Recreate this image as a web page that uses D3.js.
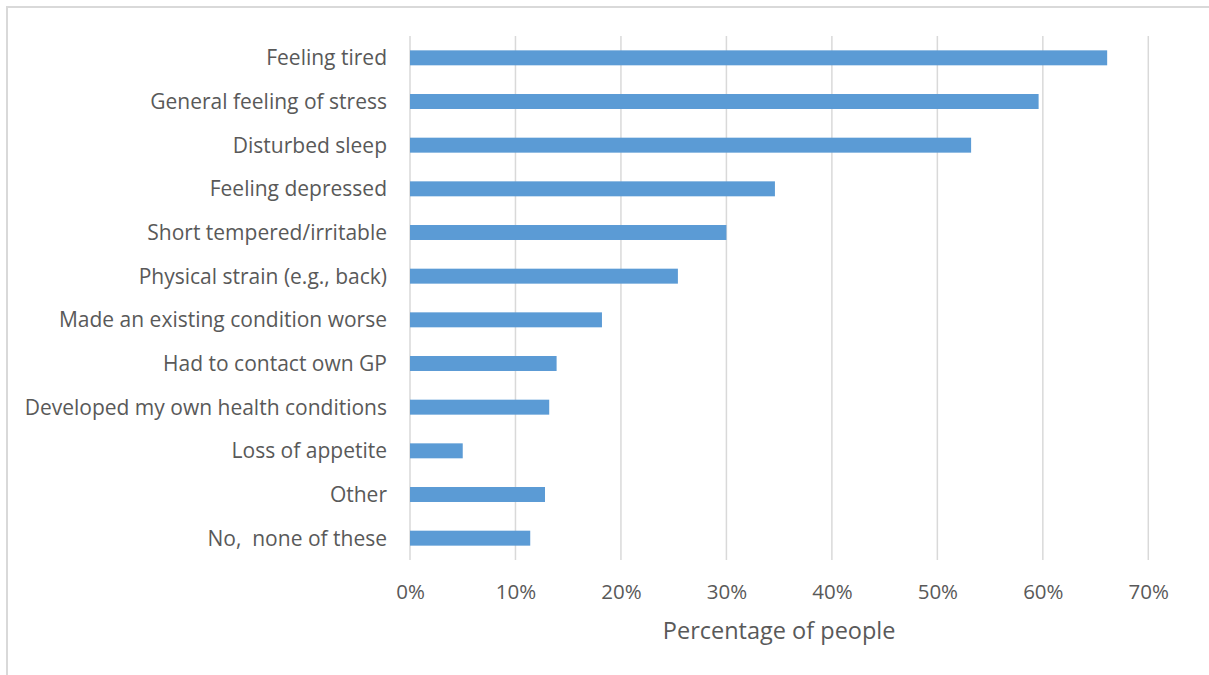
<!DOCTYPE html>
<html>
<head>
<meta charset="utf-8">
<script src="https://cdn.jsdelivr.net/npm/d3@7"></script>
<style>
  html, body { margin: 0; padding: 0; background: #fff; }
  svg { display: block; }
  text { font-family: "Open Sans", "Noto Sans", sans-serif; fill: #595959; white-space: pre; }
</style>
</head>
<body>
<svg id="chart" width="1209" height="675"></svg>
<script>
const categories = [
  "Feeling tired",
  "General feeling of stress",
  "Disturbed sleep",
  "Feeling depressed",
  "Short tempered/irritable",
  "Physical strain (e.g., back)",
  "Made an existing condition worse",
  "Had to contact own GP",
  "Developed my own health conditions",
  "Loss of appetite",
  "Other",
  "No,  none of these"
];
const values = [0.661, 0.596, 0.532, 0.346, 0.300, 0.254, 0.182, 0.139, 0.132, 0.050, 0.128, 0.114];
const tickValues = [0, 0.1, 0.2, 0.3, 0.4, 0.5, 0.6, 0.7];
const xTitle = "Percentage of people";

const svg = d3.select("#chart");
const W = 1209, H = 675;
const margin = { left: 410, right: 1209 - 1148.3, top: 36, bottom: 675 - 560 };

// outer border
svg.append("rect")
  .attr("x", 7).attr("y", 7)
  .attr("width", W + 20).attr("height", H + 20)
  .attr("fill", "none").attr("stroke", "#d9d9d9").attr("stroke-width", 2);

const x = d3.scaleLinear().domain([0, 0.7]).range([margin.left, W - margin.right]);
const y = d3.scaleBand().domain(categories).range([margin.top, H - margin.bottom])
  .paddingInner(0.657).paddingOuter(0.3285);

// gridlines
svg.append("g").selectAll("line").data(tickValues).join("line")
  .attr("x1", d => x(d)).attr("x2", d => x(d))
  .attr("y1", margin.top).attr("y2", H - margin.bottom)
  .attr("stroke", "#d9d9d9").attr("stroke-width", 1.5);

// bars
svg.append("g").selectAll("rect").data(values).join("rect")
  .attr("x", x(0))
  .attr("y", (d, i) => y(categories[i]))
  .attr("width", d => x(d) - x(0))
  .attr("height", y.bandwidth())
  .attr("fill", "#5b9bd5");

// category labels
svg.append("g").selectAll("text").data(categories).join("text")
  .attr("x", 387)
  .attr("y", d => y(d) + y.bandwidth() / 2)
  .attr("dy", "0.35em")
  .attr("text-anchor", "end")
  .attr("font-size", 21)
  .text(d => d);

// x tick labels
const xAxis = d3.axisBottom(x).tickValues(tickValues).tickFormat(d3.format(".0%")).tickSize(0).tickPadding(0);
const gx = svg.append("g").attr("transform", `translate(0,${H - margin.bottom})`).call(xAxis);
gx.select(".domain").remove();
gx.selectAll("text")
  .attr("y", 39).attr("dy", 0)
  .attr("font-size", 20.5)
  .style("font-family", '"Open Sans", "Noto Sans", sans-serif')
  .attr("fill", "#595959");

// axis title
svg.append("text")
  .attr("x", (x(0) + x(0.7)) / 2)
  .attr("y", 639)
  .attr("text-anchor", "middle")
  .attr("font-size", 23.5)
  .text(xTitle);
</script>
</body>
</html>
